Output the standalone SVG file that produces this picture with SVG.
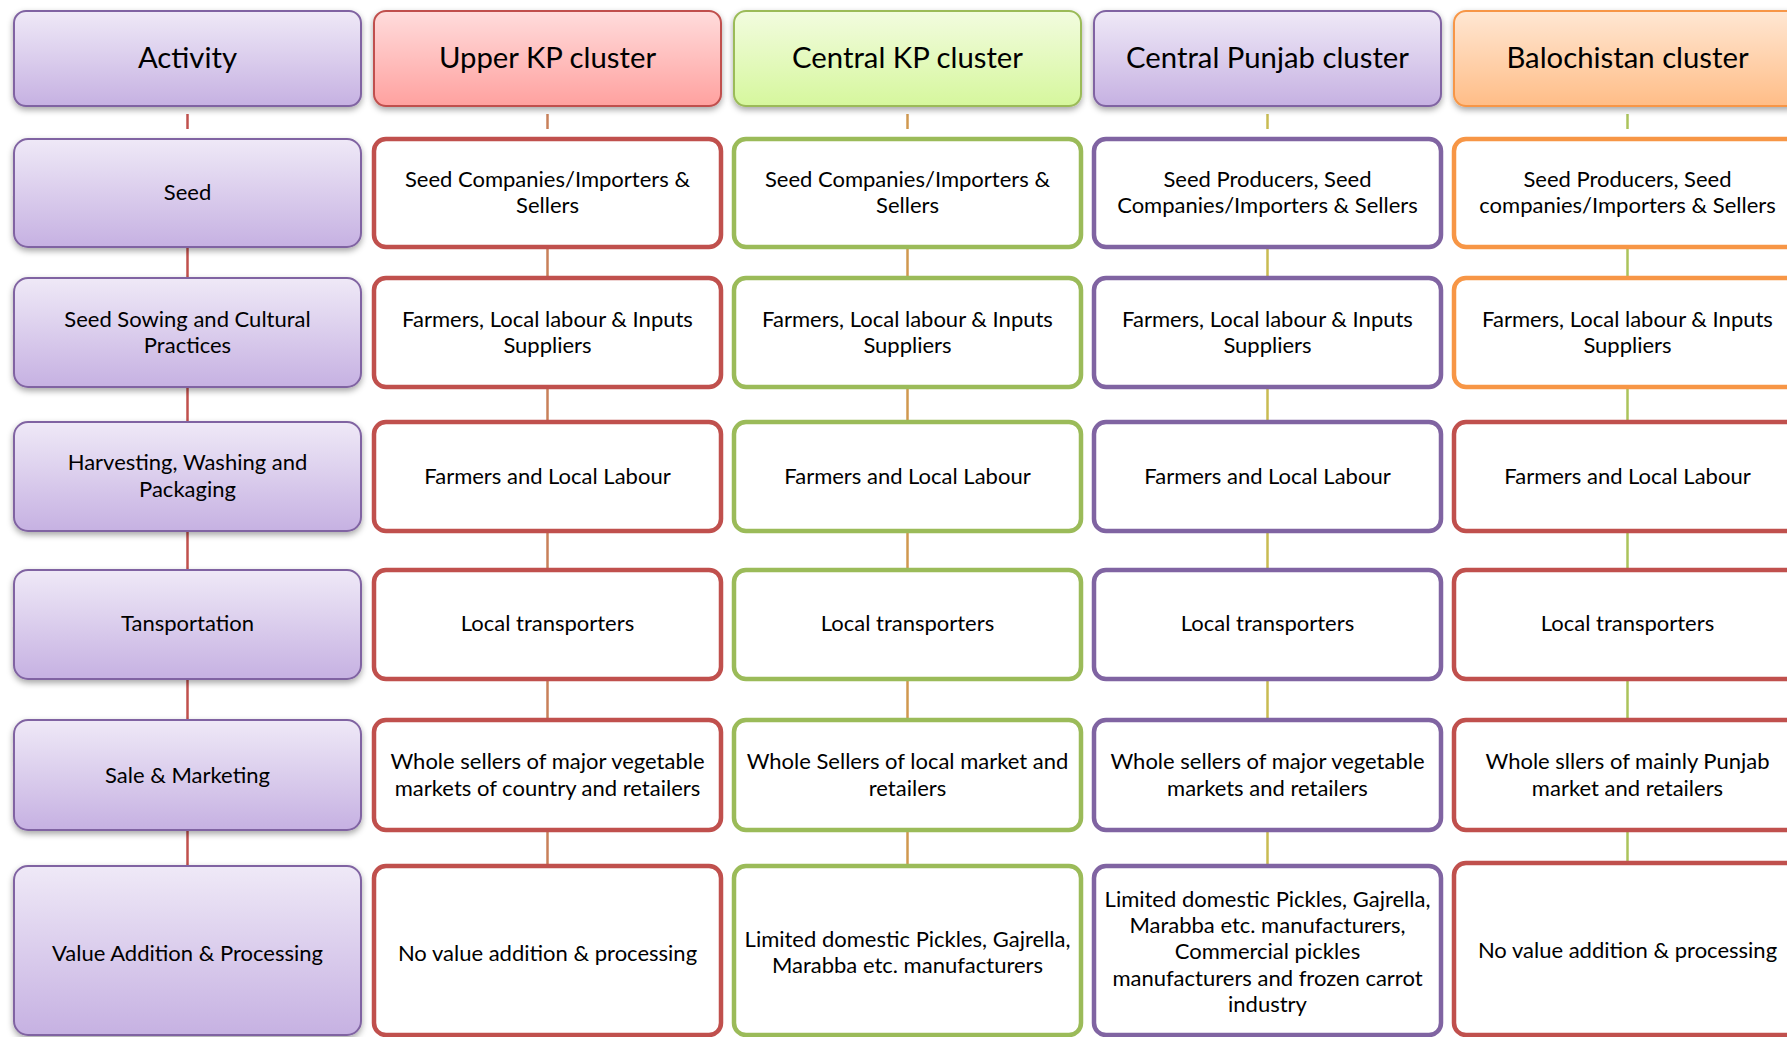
<svg xmlns="http://www.w3.org/2000/svg" width="1787" height="1037" viewBox="0 0 1787 1037">
<defs>
<linearGradient id="gPurple" x1="0" y1="0" x2="0" y2="1"><stop offset="0" stop-color="#efe9f7"/><stop offset="1" stop-color="#c6b1e2"/></linearGradient>
<linearGradient id="gRed" x1="0" y1="0" x2="0" y2="1"><stop offset="0" stop-color="#ffdcdc"/><stop offset="1" stop-color="#ffa19f"/></linearGradient>
<linearGradient id="gGreen" x1="0" y1="0" x2="0" y2="1"><stop offset="0" stop-color="#f2fcdf"/><stop offset="1" stop-color="#d6f79d"/></linearGradient>
<linearGradient id="gOrange" x1="0" y1="0" x2="0" y2="1"><stop offset="0" stop-color="#ffe7d3"/><stop offset="1" stop-color="#ffbd87"/></linearGradient>
<filter id="sh" x="-5%" y="-10%" width="110%" height="130%"><feDropShadow dx="0" dy="3" stdDeviation="3" flood-color="#000" flood-opacity="0.35"/></filter>
<style>
.act{fill:url(#gPurple);stroke:#8064a2;stroke-width:2;filter:url(#sh)}
.hR{fill:url(#gRed);stroke:#c0504d;stroke-width:2;filter:url(#sh)}
.hG{fill:url(#gGreen);stroke:#9bbb59;stroke-width:2;filter:url(#sh)}
.hP{fill:url(#gPurple);stroke:#8064a2;stroke-width:2;filter:url(#sh)}
.hO{fill:url(#gOrange);stroke:#f79646;stroke-width:2;filter:url(#sh)}
.cR{fill:#fff;stroke:#c0504d;stroke-width:4.5}
.cG{fill:#fff;stroke:#9bbb59;stroke-width:4.5}
.cP{fill:#fff;stroke:#8064a2;stroke-width:4.5}
.cO{fill:#fff;stroke:#f79646;stroke-width:4.5}
text{font-family:Lato,"Open Sans","Liberation Sans",sans-serif;fill:#000;text-anchor:middle}
.ht{font-size:29.3px}
.bt{font-size:22px}
.k0{stroke:#c0504d;stroke-width:2.5}
.k1{stroke:#c8805a;stroke-width:2.5}
.k2{stroke:#d0984f;stroke-width:2.5}
.k3{stroke:#c9bb52;stroke-width:2.5}
.k4{stroke:#abc35b;stroke-width:2.5}
</style>
</defs>
<g id="connectors">
<line class="k0" x1="187.5" y1="114" x2="187.5" y2="129"/>
<line class="k0" x1="187.5" y1="247" x2="187.5" y2="278"/>
<line class="k0" x1="187.5" y1="387" x2="187.5" y2="422"/>
<line class="k0" x1="187.5" y1="531" x2="187.5" y2="570"/>
<line class="k0" x1="187.5" y1="679" x2="187.5" y2="720"/>
<line class="k0" x1="187.5" y1="830" x2="187.5" y2="866"/>
<line class="k1" x1="547.5" y1="114" x2="547.5" y2="129"/>
<line class="k1" x1="547.5" y1="247" x2="547.5" y2="278"/>
<line class="k1" x1="547.5" y1="387" x2="547.5" y2="422"/>
<line class="k1" x1="547.5" y1="531" x2="547.5" y2="570"/>
<line class="k1" x1="547.5" y1="679" x2="547.5" y2="720"/>
<line class="k1" x1="547.5" y1="830" x2="547.5" y2="866"/>
<line class="k2" x1="907.5" y1="114" x2="907.5" y2="129"/>
<line class="k2" x1="907.5" y1="247" x2="907.5" y2="278"/>
<line class="k2" x1="907.5" y1="387" x2="907.5" y2="422"/>
<line class="k2" x1="907.5" y1="531" x2="907.5" y2="570"/>
<line class="k2" x1="907.5" y1="679" x2="907.5" y2="720"/>
<line class="k2" x1="907.5" y1="830" x2="907.5" y2="866"/>
<line class="k3" x1="1267.5" y1="114" x2="1267.5" y2="129"/>
<line class="k3" x1="1267.5" y1="247" x2="1267.5" y2="278"/>
<line class="k3" x1="1267.5" y1="387" x2="1267.5" y2="422"/>
<line class="k3" x1="1267.5" y1="531" x2="1267.5" y2="570"/>
<line class="k3" x1="1267.5" y1="679" x2="1267.5" y2="720"/>
<line class="k3" x1="1267.5" y1="830" x2="1267.5" y2="866"/>
<line class="k4" x1="1627.5" y1="114" x2="1627.5" y2="129"/>
<line class="k4" x1="1627.5" y1="247" x2="1627.5" y2="278"/>
<line class="k4" x1="1627.5" y1="387" x2="1627.5" y2="422"/>
<line class="k4" x1="1627.5" y1="531" x2="1627.5" y2="570"/>
<line class="k4" x1="1627.5" y1="679" x2="1627.5" y2="720"/>
<line class="k4" x1="1627.5" y1="830" x2="1627.5" y2="866"/>
</g>
<!-- Headers -->
<g id="h-activity"><rect class="act" x="14" y="11" width="347" height="95" rx="12"/><text class="ht" x="187.5" y="68">Activity</text></g>
<g id="h-upperkp"><rect class="hR" x="374" y="11" width="347" height="95" rx="12"/><text class="ht" x="547.5" y="68">Upper KP cluster</text></g>
<g id="h-centralkp"><rect class="hG" x="734" y="11" width="347" height="95" rx="12"/><text class="ht" x="907.5" y="68">Central KP cluster</text></g>
<g id="h-punjab"><rect class="hP" x="1094" y="11" width="347" height="95" rx="12"/><text class="ht" x="1267.5" y="68">Central Punjab cluster</text></g>
<g id="h-baloch"><rect class="hO" x="1454" y="11" width="347" height="95" rx="12"/><text class="ht" x="1627.5" y="68">Balochistan cluster</text></g>
<!-- Activity column -->
<g id="a-seed"><rect class="act" x="14" y="139" width="347" height="108" rx="14"/><text class="bt" x="187.5" y="200">Seed</text></g>
<g id="a-sowing"><rect class="act" x="14" y="278" width="347" height="109" rx="14"/><text class="bt" x="187.5" y="327">Seed Sowing and Cultural</text><text class="bt" x="187.5" y="353">Practices</text></g>
<g id="a-harvest"><rect class="act" x="14" y="422" width="347" height="109" rx="14"/><text class="bt" x="187.5" y="470">Harvesting, Washing and</text><text class="bt" x="187.5" y="497">Packaging</text></g>
<g id="a-transport"><rect class="act" x="14" y="570" width="347" height="109" rx="14"/><text class="bt" x="187.5" y="631">Tansportation</text></g>
<g id="a-sale"><rect class="act" x="14" y="720" width="347" height="110" rx="14"/><text class="bt" x="187.5" y="783">Sale &amp; Marketing</text></g>
<g id="a-value"><rect class="act" x="14" y="866" width="347" height="169" rx="14"/><text class="bt" x="187.5" y="961">Value Addition &amp; Processing</text></g>
<!-- Upper KP column -->
<g id="u-seed"><rect class="cR" x="374" y="139" width="347" height="108" rx="12"/><text class="bt" x="547.5" y="187">Seed Companies/Importers &amp;</text><text class="bt" x="547.5" y="213">Sellers</text></g>
<g id="u-sowing"><rect class="cR" x="374" y="278" width="347" height="109" rx="12"/><text class="bt" x="547.5" y="327">Farmers, Local labour &amp; Inputs</text><text class="bt" x="547.5" y="353">Suppliers</text></g>
<g id="u-harvest"><rect class="cR" x="374" y="422" width="347" height="109" rx="12"/><text class="bt" x="547.5" y="484">Farmers and Local Labour</text></g>
<g id="u-transport"><rect class="cR" x="374" y="570" width="347" height="109" rx="12"/><text class="bt" x="547.5" y="631">Local transporters</text></g>
<g id="u-sale"><rect class="cR" x="374" y="720" width="347" height="110" rx="12"/><text class="bt" x="547.5" y="769">Whole sellers of major vegetable</text><text class="bt" x="547.5" y="796">markets of country and retailers</text></g>
<g id="u-value"><rect class="cR" x="374" y="866" width="347" height="169" rx="12"/><text class="bt" x="547.5" y="961">No value addition &amp; processing</text></g>
<!-- Central KP column -->
<g id="c-seed"><rect class="cG" x="734" y="139" width="347" height="108" rx="12"/><text class="bt" x="907.5" y="187">Seed Companies/Importers &amp;</text><text class="bt" x="907.5" y="213">Sellers</text></g>
<g id="c-sowing"><rect class="cG" x="734" y="278" width="347" height="109" rx="12"/><text class="bt" x="907.5" y="327">Farmers, Local labour &amp; Inputs</text><text class="bt" x="907.5" y="353">Suppliers</text></g>
<g id="c-harvest"><rect class="cG" x="734" y="422" width="347" height="109" rx="12"/><text class="bt" x="907.5" y="484">Farmers and Local Labour</text></g>
<g id="c-transport"><rect class="cG" x="734" y="570" width="347" height="109" rx="12"/><text class="bt" x="907.5" y="631">Local transporters</text></g>
<g id="c-sale"><rect class="cG" x="734" y="720" width="347" height="110" rx="12"/><text class="bt" x="907.5" y="769">Whole Sellers of local market and</text><text class="bt" x="907.5" y="796">retailers</text></g>
<g id="c-value"><rect class="cG" x="734" y="866" width="347" height="169" rx="12"/><text class="bt" x="907.5" y="947">Limited domestic Pickles, Gajrella,</text><text class="bt" x="907.5" y="973">Marabba etc. manufacturers</text></g>
<!-- Central Punjab column -->
<g id="p-seed"><rect class="cP" x="1094" y="139" width="347" height="108" rx="12"/><text class="bt" x="1267.5" y="187">Seed Producers, Seed</text><text class="bt" x="1267.5" y="213">Companies/Importers &amp; Sellers</text></g>
<g id="p-sowing"><rect class="cP" x="1094" y="278" width="347" height="109" rx="12"/><text class="bt" x="1267.5" y="327">Farmers, Local labour &amp; Inputs</text><text class="bt" x="1267.5" y="353">Suppliers</text></g>
<g id="p-harvest"><rect class="cP" x="1094" y="422" width="347" height="109" rx="12"/><text class="bt" x="1267.5" y="484">Farmers and Local Labour</text></g>
<g id="p-transport"><rect class="cP" x="1094" y="570" width="347" height="109" rx="12"/><text class="bt" x="1267.5" y="631">Local transporters</text></g>
<g id="p-sale"><rect class="cP" x="1094" y="720" width="347" height="110" rx="12"/><text class="bt" x="1267.5" y="769">Whole sellers of major vegetable</text><text class="bt" x="1267.5" y="796">markets and retailers</text></g>
<g id="p-value"><rect class="cP" x="1094" y="866" width="347" height="169" rx="12"/><text class="bt" x="1267.5" y="907">Limited domestic Pickles, Gajrella,</text><text class="bt" x="1267.5" y="933">Marabba etc. manufacturers,</text><text class="bt" x="1267.5" y="959">Commercial pickles</text><text class="bt" x="1267.5" y="986">manufacturers and frozen carrot</text><text class="bt" x="1267.5" y="1012">industry</text></g>
<!-- Balochistan column -->
<g id="b-seed"><rect class="cO" x="1454" y="139" width="347" height="108" rx="12"/><text class="bt" x="1627.5" y="187">Seed Producers, Seed</text><text class="bt" x="1627.5" y="213">companies/Importers &amp; Sellers</text></g>
<g id="b-sowing"><rect class="cO" x="1454" y="278" width="347" height="109" rx="12"/><text class="bt" x="1627.5" y="327">Farmers, Local labour &amp; Inputs</text><text class="bt" x="1627.5" y="353">Suppliers</text></g>
<g id="b-harvest"><rect class="cR" x="1454" y="422" width="347" height="109" rx="12"/><text class="bt" x="1627.5" y="484">Farmers and Local Labour</text></g>
<g id="b-transport"><rect class="cR" x="1454" y="570" width="347" height="109" rx="12"/><text class="bt" x="1627.5" y="631">Local transporters</text></g>
<g id="b-sale"><rect class="cR" x="1454" y="720" width="347" height="110" rx="12"/><text class="bt" x="1627.5" y="769">Whole sllers of mainly Punjab</text><text class="bt" x="1627.5" y="796">market and retailers</text></g>
<g id="b-value"><rect class="cR" x="1454" y="863" width="347" height="172" rx="12"/><text class="bt" x="1627.5" y="958">No value addition &amp; processing</text></g>
</svg>
